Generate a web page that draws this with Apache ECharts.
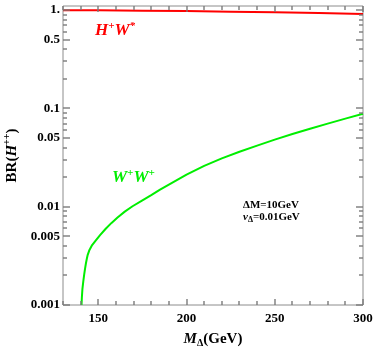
<!DOCTYPE html>
<html>
<head>
<meta charset="utf-8">
<script src="https://cdn.jsdelivr.net/npm/echarts@6/dist/echarts.min.js"></script>
<style>html,body{margin:0;padding:0;background:#fff;}#c{width:374px;height:355px;}</style>
</head>
<body>
<div id="c"></div>
<script>
// ---- data ----
const wwMass = [140.5,140.7,141,141.5,142,142.5,143,143.5,144,145,146.5,148.5,151,154.2,157.5,160.9,165,169.4,175,180,185,190,200,210,220,230,240,250,260,270,280,290,300];
const wwBR   = [0.001,0.00120,0.00145,0.00174,0.00204,0.00234,0.00266,0.00295,0.00324,0.00363,0.00407,0.00452,0.00513,0.00596,0.00684,0.00776,0.00891,0.0101,0.0116,0.0131,0.0149,0.0168,0.0212,0.0260,0.0310,0.0362,0.0418,0.0481,0.0548,0.0621,0.0700,0.0787,0.0880];
const hwMass = [130,140,150,175,200,225,250,275,300];
const hwBR   = [0.998,0.997,0.993,0.986,0.976,0.964,0.950,0.933,0.912];
const xTickValues  = [150,200,250,300];
const xMinorValues = [130,140,160,170,180,190,210,220,230,240,260,270,280,290];
const yTickValues  = [0.001,0.005,0.01,0.05,0.1,0.5,1];
const yTickLabels  = ['0.001','0.005','0.01','0.05','0.1','0.5','1.'];
const yMinorValues = [0.002,0.003,0.004,0.006,0.007,0.008,0.009,
                      0.02,0.03,0.04,0.06,0.07,0.08,0.09,
                      0.2,0.3,0.4,0.6,0.7,0.8,0.9];

const FONT = 'Liberation Serif';
const axisCol = '#8c8c8c';
const tickCol = '#7a7a7a';
const X_MIN = 130, X_MAX = 300, Y_MIN = 0.001, Y_MAX = 1.1;
const chart = echarts.init(document.getElementById('c'));

function yLabel(v){
  let best = 0, bd = Infinity;
  yTickValues.forEach((t,i)=>{const d=Math.abs(Math.log10(v)-Math.log10(t)); if(d<bd){bd=d;best=i;}});
  return yTickLabels[best];
}

// tick marks data: [x, y, kind(0=x,1=y), length]
const tickData = [];
xTickValues.forEach(v=>tickData.push([v, Y_MIN, 0, 6]));
xMinorValues.forEach(v=>tickData.push([v, Y_MIN, 0, 4]));
yTickValues.forEach(v=>tickData.push([X_MIN, v, 1, 7]));
yMinorValues.forEach(v=>tickData.push([X_MIN, v, 1, 4]));

function renderTick(params, api){
  const cs = params.coordSys;
  const p = api.coord([api.value(0), api.value(1)]);
  const kind = api.value(2), len = api.value(3);
  const st = {stroke:tickCol, lineWidth:1.4};
  if (kind === 0){
    const x = Math.round(p[0]);
    const b = cs.y + cs.height, t = cs.y;
    return {type:'group', children:[
      {type:'line', shape:{x1:x, y1:b, x2:x, y2:b-len}, style:st},
      {type:'line', shape:{x1:x, y1:t, x2:x, y2:t+len}, style:st}]};
  } else {
    const y = Math.round(p[1]);
    const l = cs.x, r = cs.x + cs.width;
    return {type:'group', children:[
      {type:'line', shape:{x1:l, y1:y, x2:l+len, y2:y}, style:st},
      {type:'line', shape:{x1:r, y1:y, x2:r-len, y2:y}, style:st}]};
  }
}

const option = {
  animation:false,
  grid:{left:63, right:11, top:6, bottom:50, outerBoundsMode:'none',
    show:true, borderColor:axisCol, borderWidth:1},
  xAxis:{type:'value', min:X_MIN, max:X_MAX, interval:10, splitLine:{show:false},
    axisLine:{show:false}, axisTick:{show:false},
    axisLabel:{show:true, customValues:xTickValues, margin:7, color:'#000',
      fontFamily:FONT, fontWeight:'bold', fontSize:13},
    name:'{i|M}{s|Δ}{n|(GeV)}', nameLocation:'middle', nameGap:25,
    nameTextStyle:{rich:{
      i:{fontFamily:FONT, fontStyle:'italic', fontWeight:'bold', fontSize:15, color:'#000', lineHeight:18},
      s:{fontFamily:FONT, fontWeight:'bold', fontSize:10, color:'#000', verticalAlign:'bottom', lineHeight:18},
      n:{fontFamily:FONT, fontWeight:'bold', fontSize:15, color:'#000', lineHeight:18}}}
  },
  yAxis:{type:'log', logBase:10, min:Y_MIN, max:Y_MAX, splitLine:{show:false},
    axisLine:{show:false}, axisTick:{show:false},
    axisLabel:{show:true, customValues:yTickValues, formatter:yLabel, margin:3, color:'#000',
      fontFamily:FONT, fontWeight:'bold', fontSize:13},
    name:'{n|BR(}{i|H}{s|++}{n|)}', nameLocation:'middle', nameGap:41,
    nameTextStyle:{rich:{
      i:{fontFamily:FONT, fontStyle:'italic', fontWeight:'bold', fontSize:15, color:'#000', lineHeight:20},
      s:{fontFamily:FONT, fontWeight:'bold', fontSize:10, color:'#000', verticalAlign:'top', lineHeight:20},
      n:{fontFamily:FONT, fontWeight:'bold', fontSize:15, color:'#000', lineHeight:20}}}
  },
  series:[
    {type:'custom', renderItem:renderTick, clip:false, encode:{x:0, y:1}, data:tickData, z:10},
    {type:'line', name:'H+W*', showSymbol:false, symbol:'none', smooth:false,
      lineStyle:{color:'#ff0000', width:2}, data: hwMass.map((m,i)=>[m,hwBR[i]])},
    {type:'line', name:'W+W+', showSymbol:false, symbol:'none', smooth:false,
      lineStyle:{color:'#00ee00', width:2}, data: wwMass.map((m,i)=>[m,wwBR[i]])}
  ],
  graphic:[
    {type:'text', x:95, y:31, style:{
      text:'{i|H}{s|+}{i|W}{s|*}', verticalAlign:'middle', align:'left',
      rich:{
        i:{fontFamily:FONT, fontStyle:'italic', fontWeight:'bold', fontSize:17, fill:'#ff0000', lineHeight:20},
        s:{fontFamily:FONT, fontStyle:'italic', fontWeight:'bold', fontSize:11, fill:'#ff0000', verticalAlign:'top', lineHeight:20}}}},
    {type:'text', x:112, y:178, style:{
      text:'{i|W}{s|+}{i|W}{s|+}', verticalAlign:'middle', align:'left',
      rich:{
        i:{fontFamily:FONT, fontStyle:'italic', fontWeight:'bold', fontSize:17, fill:'#00ee00', lineHeight:20},
        s:{fontFamily:FONT, fontStyle:'italic', fontWeight:'bold', fontSize:11, fill:'#00ee00', verticalAlign:'top', lineHeight:20}}}},
    {type:'text', x:243, y:205, style:{
      text:'{n|ΔM=10GeV}', verticalAlign:'middle', align:'left',
      rich:{n:{fontFamily:FONT, fontWeight:'bold', fontSize:11, fill:'#000', lineHeight:9}}}},
    {type:'text', x:243, y:217, style:{
      text:'{i|v}{s|Δ}{n|=0.01GeV}', verticalAlign:'middle', align:'left',
      rich:{
        i:{fontFamily:FONT, fontStyle:'italic', fontWeight:'bold', fontSize:11, fill:'#000', lineHeight:13},
        s:{fontFamily:FONT, fontWeight:'bold', fontSize:8, fill:'#000', verticalAlign:'bottom', lineHeight:13},
        n:{fontFamily:FONT, fontWeight:'bold', fontSize:11, fill:'#000', lineHeight:13}}}}
  ]
};
chart.setOption(option);
</script>
</body>
</html>
